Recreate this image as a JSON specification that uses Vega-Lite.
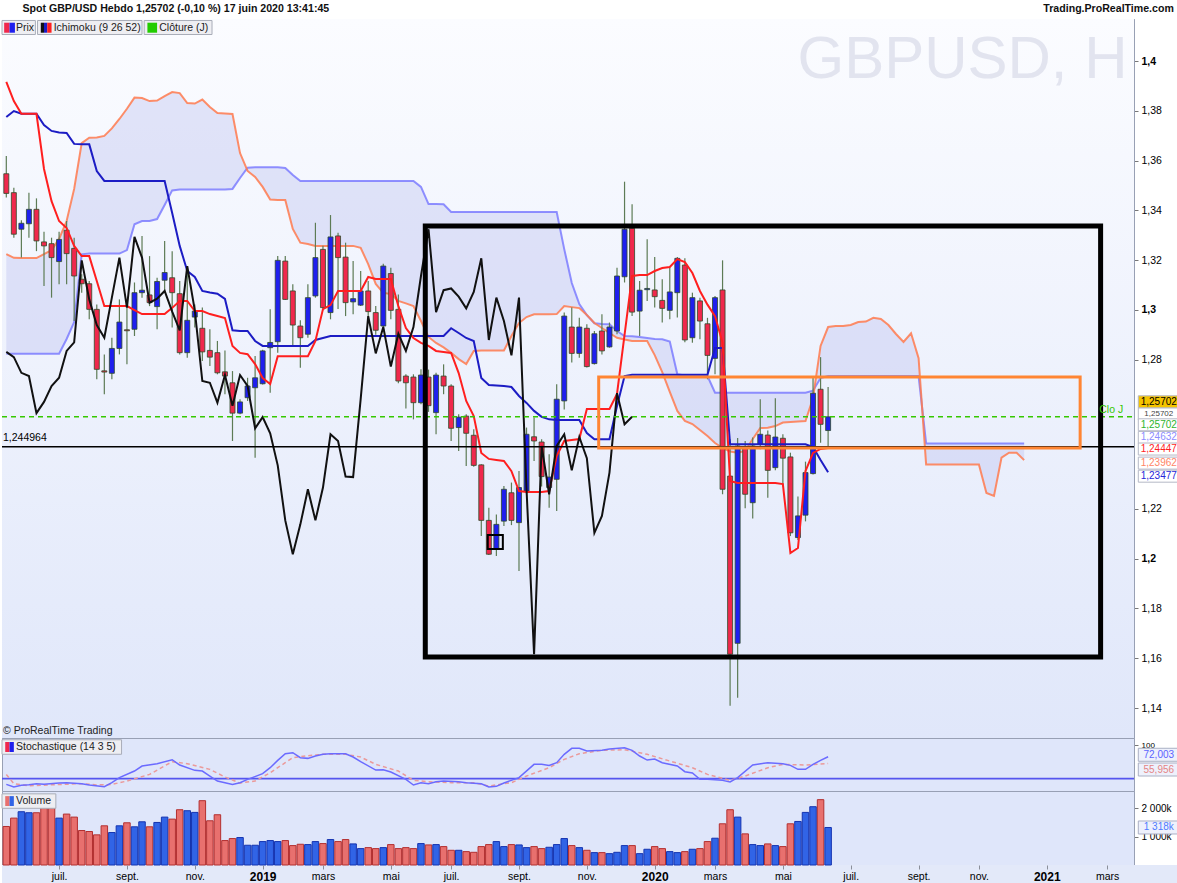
{
  "$schema": "https://vega.github.io/schema/vega-lite/v6.json",
  "padding": 0,
  "background": "white",
  "spacing": 0,
  "bounds": "flush",
  "config": {
    "font": "Liberation Sans",
    "view": {"stroke": "#98a0b4", "fill": "#dfe6fa"},
    "axis": {"labelFont": "Liberation Sans"}
  },
  "datasets": {
    "candles": [
      {"d":"2018-05-14","o":1.3547,"h":1.3618,"l":1.3451,"c":1.3468,"v":1353},
      {"d":"2018-05-21","o":1.3471,"h":1.3491,"l":1.3290,"c":1.3304,"v":1648},
      {"d":"2018-05-28","o":1.3324,"h":1.3360,"l":1.3210,"c":1.3348,"v":1872},
      {"d":"2018-06-04","o":1.3346,"h":1.3471,"l":1.3290,"c":1.3404,"v":1836},
      {"d":"2018-06-11","o":1.3404,"h":1.3448,"l":1.3236,"c":1.3277,"v":1836},
      {"d":"2018-06-18","o":1.3273,"h":1.3314,"l":1.3096,"c":1.3257,"v":2025},
      {"d":"2018-06-25","o":1.3266,"h":1.3290,"l":1.3049,"c":1.3210,"v":2025},
      {"d":"2018-07-02","o":1.3194,"h":1.3314,"l":1.3103,"c":1.3283,"v":1648},
      {"d":"2018-07-09","o":1.3320,"h":1.3357,"l":1.3103,"c":1.3226,"v":1789},
      {"d":"2018-07-16","o":1.3247,"h":1.3290,"l":1.2955,"c":1.3136,"v":1683},
      {"d":"2018-07-23","o":1.3123,"h":1.3143,"l":1.3069,"c":1.3105,"v":1212},
      {"d":"2018-07-30","o":1.3105,"h":1.3116,"l":1.2962,"c":1.3002,"v":1177},
      {"d":"2018-08-06","o":1.3002,"h":1.3022,"l":1.2721,"c":1.2761,"v":1059},
      {"d":"2018-08-13","o":1.2755,"h":1.2821,"l":1.2661,"c":1.2750,"v":1377},
      {"d":"2018-08-20","o":1.2745,"h":1.2888,"l":1.2721,"c":1.2845,"v":1141},
      {"d":"2018-08-27","o":1.2845,"h":1.3042,"l":1.2821,"c":1.2951,"v":1377},
      {"d":"2018-09-03","o":1.2920,"h":1.3009,"l":1.2781,"c":1.2916,"v":1483},
      {"d":"2018-09-10","o":1.2922,"h":1.3110,"l":1.2895,"c":1.3069,"v":1342},
      {"d":"2018-09-17","o":1.3069,"h":1.3297,"l":1.3049,"c":1.3079,"v":1518},
      {"d":"2018-09-24","o":1.3060,"h":1.3216,"l":1.3015,"c":1.3029,"v":1342},
      {"d":"2018-10-01","o":1.3013,"h":1.3129,"l":1.2922,"c":1.3114,"v":1495},
      {"d":"2018-10-08","o":1.3119,"h":1.3277,"l":1.3069,"c":1.3150,"v":1683},
      {"d":"2018-10-15","o":1.3129,"h":1.3236,"l":1.2929,"c":1.3069,"v":1612},
      {"d":"2018-10-22","o":1.3065,"h":1.3116,"l":1.2821,"c":1.2828,"v":1942},
      {"d":"2018-10-29","o":1.2828,"h":1.3176,"l":1.2808,"c":1.2958,"v":1907},
      {"d":"2018-11-05","o":1.2971,"h":1.3022,"l":1.2929,"c":1.2995,"v":1848},
      {"d":"2018-11-12","o":1.2926,"h":1.3009,"l":1.2794,"c":1.2831,"v":2260},
      {"d":"2018-11-19","o":1.2837,"h":1.2922,"l":1.2774,"c":1.2810,"v":1554},
      {"d":"2018-11-26","o":1.2828,"h":1.2875,"l":1.2741,"c":1.2747,"v":1766},
      {"d":"2018-12-03","o":1.2751,"h":1.2837,"l":1.2661,"c":1.2734,"v":859},
      {"d":"2018-12-10","o":1.2707,"h":1.2754,"l":1.2473,"c":1.2585,"v":929},
      {"d":"2018-12-17","o":1.2585,"h":1.2641,"l":1.2580,"c":1.2630,"v":965},
      {"d":"2018-12-24","o":1.2647,"h":1.2727,"l":1.2634,"c":1.2694,"v":694},
      {"d":"2018-12-31","o":1.2687,"h":1.2815,"l":1.2406,"c":1.2727,"v":694},
      {"d":"2019-01-07","o":1.2703,"h":1.2840,"l":1.2700,"c":1.2835,"v":823},
      {"d":"2019-01-14","o":1.2848,"h":1.3002,"l":1.2667,"c":1.2869,"v":859},
      {"d":"2019-01-21","o":1.2872,"h":1.3216,"l":1.2828,"c":1.3199,"v":823},
      {"d":"2019-01-28","o":1.3196,"h":1.3216,"l":1.3040,"c":1.3042,"v":859},
      {"d":"2019-02-04","o":1.3076,"h":1.3103,"l":1.2855,"c":1.2939,"v":682},
      {"d":"2019-02-11","o":1.2935,"h":1.2958,"l":1.2767,"c":1.2888,"v":729},
      {"d":"2019-02-18","o":1.2902,"h":1.3103,"l":1.2888,"c":1.3049,"v":717},
      {"d":"2019-02-25","o":1.3056,"h":1.3350,"l":1.3049,"c":1.3210,"v":823},
      {"d":"2019-03-04","o":1.3243,"h":1.3258,"l":1.2998,"c":1.3009,"v":753},
      {"d":"2019-03-11","o":1.2989,"h":1.3381,"l":1.2962,"c":1.3293,"v":894},
      {"d":"2019-03-18","o":1.3297,"h":1.3310,"l":1.3003,"c":1.3210,"v":823},
      {"d":"2019-03-25","o":1.3212,"h":1.3270,"l":1.2975,"c":1.3029,"v":894},
      {"d":"2019-04-01","o":1.3032,"h":1.3196,"l":1.2982,"c":1.3045,"v":741},
      {"d":"2019-04-08","o":1.3019,"h":1.3156,"l":1.3015,"c":1.3076,"v":576},
      {"d":"2019-04-15","o":1.3076,"h":1.3116,"l":1.2975,"c":1.2993,"v":611},
      {"d":"2019-04-22","o":1.2989,"h":1.3015,"l":1.2900,"c":1.2918,"v":576},
      {"d":"2019-04-29","o":1.2935,"h":1.3185,"l":1.2930,"c":1.3176,"v":611},
      {"d":"2019-05-06","o":1.3146,"h":1.3169,"l":1.2962,"c":1.2998,"v":717},
      {"d":"2019-05-13","o":1.3002,"h":1.3062,"l":1.2705,"c":1.2714,"v":576},
      {"d":"2019-05-20","o":1.2734,"h":1.2741,"l":1.2604,"c":1.2707,"v":611},
      {"d":"2019-05-27","o":1.2730,"h":1.2741,"l":1.2560,"c":1.2627,"v":576},
      {"d":"2019-06-03","o":1.2627,"h":1.2761,"l":1.2621,"c":1.2738,"v":753},
      {"d":"2019-06-10","o":1.2730,"h":1.2760,"l":1.2590,"c":1.2615,"v":705},
      {"d":"2019-06-17","o":1.2587,"h":1.2747,"l":1.2500,"c":1.2738,"v":717},
      {"d":"2019-06-24","o":1.2734,"h":1.2781,"l":1.2661,"c":1.2694,"v":647},
      {"d":"2019-07-01","o":1.2694,"h":1.2701,"l":1.2473,"c":1.2524,"v":517},
      {"d":"2019-07-08","o":1.2527,"h":1.2580,"l":1.2433,"c":1.2569,"v":517},
      {"d":"2019-07-15","o":1.2573,"h":1.2580,"l":1.2373,"c":1.2504,"v":470},
      {"d":"2019-07-22","o":1.2496,"h":1.2520,"l":1.2370,"c":1.2375,"v":446},
      {"d":"2019-07-29","o":1.2377,"h":1.2380,"l":1.2091,"c":1.2154,"v":647},
      {"d":"2019-08-05","o":1.2154,"h":1.2205,"l":1.2015,"c":1.2018,"v":717},
      {"d":"2019-08-12","o":1.2041,"h":1.2178,"l":1.2011,"c":1.2138,"v":823},
      {"d":"2019-08-19","o":1.2151,"h":1.2292,"l":1.2131,"c":1.2279,"v":647},
      {"d":"2019-08-26","o":1.2265,"h":1.2306,"l":1.2135,"c":1.2154,"v":717},
      {"d":"2019-09-02","o":1.2145,"h":1.2352,"l":1.1951,"c":1.2286,"v":705},
      {"d":"2019-09-09","o":1.2272,"h":1.2527,"l":1.2259,"c":1.2500,"v":611},
      {"d":"2019-09-16","o":1.2490,"h":1.2567,"l":1.2393,"c":1.2473,"v":647},
      {"d":"2019-09-23","o":1.2469,"h":1.2480,"l":1.2290,"c":1.2330,"v":576},
      {"d":"2019-09-30","o":1.2286,"h":1.2420,"l":1.2205,"c":1.2328,"v":623},
      {"d":"2019-10-07","o":1.2319,"h":1.2701,"l":1.2192,"c":1.2641,"v":717},
      {"d":"2019-10-14","o":1.2634,"h":1.2989,"l":1.2600,"c":1.2975,"v":929},
      {"d":"2019-10-21","o":1.2931,"h":1.3009,"l":1.2788,"c":1.2825,"v":682},
      {"d":"2019-10-28","o":1.2825,"h":1.2968,"l":1.2808,"c":1.2931,"v":611},
      {"d":"2019-11-04","o":1.2926,"h":1.2942,"l":1.2768,"c":1.2772,"v":517},
      {"d":"2019-11-11","o":1.2784,"h":1.2915,"l":1.2780,"c":1.2904,"v":435},
      {"d":"2019-11-18","o":1.2915,"h":1.2982,"l":1.2821,"c":1.2835,"v":435},
      {"d":"2019-11-25","o":1.2851,"h":1.2949,"l":1.2848,"c":1.2931,"v":399},
      {"d":"2019-12-02","o":1.2915,"h":1.3169,"l":1.2902,"c":1.3136,"v":446},
      {"d":"2019-12-09","o":1.3133,"h":1.3515,"l":1.3110,"c":1.3324,"v":682},
      {"d":"2019-12-16","o":1.3328,"h":1.3424,"l":1.2975,"c":1.2991,"v":682},
      {"d":"2019-12-23","o":1.2995,"h":1.3116,"l":1.2895,"c":1.3079,"v":399},
      {"d":"2019-12-30","o":1.3081,"h":1.3284,"l":1.3036,"c":1.3086,"v":553},
      {"d":"2020-01-06","o":1.3080,"h":1.3212,"l":1.3009,"c":1.3053,"v":647},
      {"d":"2020-01-13","o":1.3038,"h":1.3123,"l":1.2949,"c":1.3006,"v":576},
      {"d":"2020-01-20","o":1.2998,"h":1.3169,"l":1.2962,"c":1.3072,"v":470},
      {"d":"2020-01-27","o":1.3069,"h":1.3212,"l":1.2969,"c":1.3207,"v":435},
      {"d":"2020-02-03","o":1.3180,"h":1.3207,"l":1.2870,"c":1.2879,"v":470},
      {"d":"2020-02-10","o":1.2888,"h":1.3069,"l":1.2868,"c":1.3049,"v":553},
      {"d":"2020-02-17","o":1.3036,"h":1.3049,"l":1.2882,"c":1.2955,"v":576},
      {"d":"2020-02-24","o":1.2944,"h":1.2968,"l":1.2721,"c":1.2817,"v":823},
      {"d":"2020-03-02","o":1.2805,"h":1.3056,"l":1.2741,"c":1.3049,"v":941},
      {"d":"2020-03-09","o":1.3080,"h":1.3199,"l":1.2259,"c":1.2279,"v":1448},
      {"d":"2020-03-16","o":1.2332,"h":1.2480,"l":1.1409,"c":1.1616,"v":1942},
      {"d":"2020-03-23","o":1.1660,"h":1.2485,"l":1.1441,"c":1.2453,"v":1683},
      {"d":"2020-03-30","o":1.2446,"h":1.2473,"l":1.2203,"c":1.2259,"v":1094},
      {"d":"2020-04-06","o":1.2225,"h":1.2487,"l":1.2162,"c":1.2453,"v":717},
      {"d":"2020-04-13","o":1.2460,"h":1.2641,"l":1.2440,"c":1.2500,"v":682},
      {"d":"2020-04-20","o":1.2497,"h":1.2515,"l":1.2245,"c":1.2355,"v":741},
      {"d":"2020-04-27","o":1.2366,"h":1.2645,"l":1.2355,"c":1.2489,"v":682},
      {"d":"2020-05-04","o":1.2484,"h":1.2500,"l":1.2290,"c":1.2404,"v":647},
      {"d":"2020-05-11","o":1.2409,"h":1.2426,"l":1.2091,"c":1.2104,"v":1448},
      {"d":"2020-05-18","o":1.2085,"h":1.2250,"l":1.2075,"c":1.2172,"v":1530},
      {"d":"2020-05-25","o":1.2175,"h":1.2390,"l":1.2150,"c":1.2346,"v":1848},
      {"d":"2020-06-01","o":1.2342,"h":1.2730,"l":1.2338,"c":1.2665,"v":2048},
      {"d":"2020-06-08","o":1.2681,"h":1.2810,"l":1.2466,"c":1.2540,"v":2296},
      {"d":"2020-06-15","o":1.2515,"h":1.2690,"l":1.2450,"c":1.25702,"v":1318}
    ],
    "tk": [
      {"d":"2018-05-14","t":1.3916,"k":1.3775},{"d":"2018-05-21","t":1.3839,"k":1.3799},
      {"d":"2018-05-28","t":1.3788,"k":1.3788},{"d":"2018-06-04","t":1.3788,"k":1.3788},
      {"d":"2018-06-11","t":1.3788,"k":1.3788},{"d":"2018-06-18","t":1.3566,"k":1.3743},
      {"d":"2018-06-25","t":1.3437,"k":1.3719},{"d":"2018-07-02","t":1.3357,"k":1.3713},
      {"d":"2018-07-09","t":1.3329,"k":1.3711},{"d":"2018-07-16","t":1.3257,"k":1.3667},
      {"d":"2018-07-23","t":1.3216,"k":1.3665},{"d":"2018-07-30","t":1.3216,"k":1.3665},
      {"d":"2018-08-06","t":1.3116,"k":1.3558},{"d":"2018-08-13","t":1.3015,"k":1.3518},
      {"d":"2018-08-20","t":1.3015,"k":1.3518},{"d":"2018-08-27","t":1.3015,"k":1.3518},
      {"d":"2018-09-03","t":1.3015,"k":1.3518},{"d":"2018-09-10","t":1.2999,"k":1.3518},
      {"d":"2018-09-17","t":1.2983,"k":1.3518},{"d":"2018-09-24","t":1.2983,"k":1.3518},
      {"d":"2018-10-01","t":1.2983,"k":1.3518},{"d":"2018-10-08","t":1.2983,"k":1.3518},
      {"d":"2018-10-15","t":1.3008,"k":1.3389},{"d":"2018-10-22","t":1.3036,"k":1.3257},
      {"d":"2018-10-29","t":1.3036,"k":1.3156},{"d":"2018-11-05","t":1.2995,"k":1.3132},
      {"d":"2018-11-12","t":1.2995,"k":1.3076},{"d":"2018-11-19","t":1.2983,"k":1.3070},
      {"d":"2018-11-26","t":1.2975,"k":1.3065},{"d":"2018-12-03","t":1.2967,"k":1.3044},
      {"d":"2018-12-10","t":1.2855,"k":1.2918},{"d":"2018-12-17","t":1.2827,"k":1.2915},
      {"d":"2018-12-24","t":1.2822,"k":1.2915},{"d":"2018-12-31","t":1.2782,"k":1.2875},
      {"d":"2019-01-07","t":1.2726,"k":1.2855},{"d":"2019-01-14","t":1.2702,"k":1.2855},
      {"d":"2019-01-21","t":1.2814,"k":1.2855},{"d":"2019-01-28","t":1.2814,"k":1.2855},
      {"d":"2019-02-04","t":1.2814,"k":1.2855},{"d":"2019-02-11","t":1.2814,"k":1.2855},
      {"d":"2019-02-18","t":1.2814,"k":1.2855},{"d":"2019-02-25","t":1.2875,"k":1.2879},
      {"d":"2019-03-04","t":1.3003,"k":1.2887},{"d":"2019-03-11","t":1.3019,"k":1.2895},
      {"d":"2019-03-18","t":1.3076,"k":1.2895},{"d":"2019-03-25","t":1.3076,"k":1.2895},
      {"d":"2019-04-01","t":1.3076,"k":1.2895},{"d":"2019-04-08","t":1.3076,"k":1.2895},
      {"d":"2019-04-15","t":1.3132,"k":1.2895},{"d":"2019-04-22","t":1.3124,"k":1.2895},
      {"d":"2019-04-29","t":1.3124,"k":1.2895},{"d":"2019-05-06","t":1.3124,"k":1.2895},
      {"d":"2019-05-13","t":1.3015,"k":1.2895},{"d":"2019-05-20","t":1.2927,"k":1.2895},
      {"d":"2019-05-27","t":1.2887,"k":1.2895},{"d":"2019-06-03","t":1.2867,"k":1.2895},
      {"d":"2019-06-10","t":1.2855,"k":1.2895},{"d":"2019-06-17","t":1.2835,"k":1.2895},
      {"d":"2019-06-24","t":1.2831,"k":1.2895},{"d":"2019-07-01","t":1.2827,"k":1.2926},
      {"d":"2019-07-08","t":1.2746,"k":1.2907},{"d":"2019-07-15","t":1.2634,"k":1.2887},
      {"d":"2019-07-22","t":1.2573,"k":1.2875},{"d":"2019-07-29","t":1.2425,"k":1.2726},
      {"d":"2019-08-05","t":1.2401,"k":1.2698},{"d":"2019-08-12","t":1.2397,"k":1.2696},
      {"d":"2019-08-19","t":1.2393,"k":1.2694},{"d":"2019-08-26","t":1.2352,"k":1.2690},
      {"d":"2019-09-02","t":1.2272,"k":1.2654},{"d":"2019-09-09","t":1.2268,"k":1.2626},
      {"d":"2019-09-16","t":1.2268,"k":1.2594},{"d":"2019-09-23","t":1.2268,"k":1.2570},
      {"d":"2019-09-30","t":1.2272,"k":1.2560},{"d":"2019-10-07","t":1.2413,"k":1.2557},
      {"d":"2019-10-14","t":1.2473,"k":1.2557},{"d":"2019-10-21","t":1.2477,"k":1.2557},
      {"d":"2019-10-28","t":1.2481,"k":1.2557},{"d":"2019-11-04","t":1.2602,"k":1.2505},
      {"d":"2019-11-11","t":1.2602,"k":1.2480},{"d":"2019-11-18","t":1.2602,"k":1.2480},
      {"d":"2019-11-25","t":1.2602,"k":1.2480},{"d":"2019-12-02","t":1.2662,"k":1.2614},
      {"d":"2019-12-09","t":1.2899,"k":1.2734},{"d":"2019-12-16","t":1.3136,"k":1.2739},
      {"d":"2019-12-23","t":1.3140,"k":1.2739},{"d":"2019-12-30","t":1.3140,"k":1.2739},
      {"d":"2020-01-06","t":1.3156,"k":1.2739},{"d":"2020-01-13","t":1.3168,"k":1.2739},
      {"d":"2020-01-20","t":1.3172,"k":1.2739},{"d":"2020-01-27","t":1.3204,"k":1.2739},
      {"d":"2020-02-03","t":1.3192,"k":1.2739},{"d":"2020-02-10","t":1.3148,"k":1.2739},
      {"d":"2020-02-17","t":1.3076,"k":1.2739},{"d":"2020-02-24","t":1.3021,"k":1.2739},
      {"d":"2020-03-02","t":1.2975,"k":1.2847},{"d":"2020-03-09","t":1.2868,"k":1.2847},
      {"d":"2020-03-16","t":1.2312,"k":1.2460},{"d":"2020-03-23","t":1.2304,"k":1.2460},
      {"d":"2020-03-30","t":1.2304,"k":1.2460},{"d":"2020-04-06","t":1.2304,"k":1.2460},
      {"d":"2020-04-13","t":1.2304,"k":1.2460},{"d":"2020-04-20","t":1.2304,"k":1.2460},
      {"d":"2020-04-27","t":1.2304,"k":1.2460},{"d":"2020-05-04","t":1.2300,"k":1.2460},
      {"d":"2020-05-11","t":1.2023,"k":1.2460},{"d":"2020-05-18","t":1.2043,"k":1.2460},
      {"d":"2020-05-25","t":1.2352,"k":1.2460},{"d":"2020-06-01","t":1.2425,"k":1.2449},
      {"d":"2020-06-08","t":1.2441,"k":1.2397},{"d":"2020-06-15","t":1.24447,"k":1.23477}
    ],
    "ck": [
      {"d":"2018-05-14","v":1.2831},{"d":"2018-05-21","v":1.2810},{"d":"2018-05-28","v":1.2747},
      {"d":"2018-06-04","v":1.2734},{"d":"2018-06-11","v":1.2585},{"d":"2018-06-18","v":1.2630},
      {"d":"2018-06-25","v":1.2694},{"d":"2018-07-02","v":1.2727},{"d":"2018-07-09","v":1.2835},
      {"d":"2018-07-16","v":1.2869},{"d":"2018-07-23","v":1.3199},{"d":"2018-07-30","v":1.3042},
      {"d":"2018-08-06","v":1.2939},{"d":"2018-08-13","v":1.2888},{"d":"2018-08-20","v":1.3049},
      {"d":"2018-08-27","v":1.3210},{"d":"2018-09-03","v":1.3009},{"d":"2018-09-10","v":1.3293},
      {"d":"2018-09-17","v":1.3210},{"d":"2018-09-24","v":1.3029},{"d":"2018-10-01","v":1.3045},
      {"d":"2018-10-08","v":1.3076},{"d":"2018-10-15","v":1.2993},{"d":"2018-10-22","v":1.2918},
      {"d":"2018-10-29","v":1.3176},{"d":"2018-11-05","v":1.2998},{"d":"2018-11-12","v":1.2714},
      {"d":"2018-11-19","v":1.2707},{"d":"2018-11-26","v":1.2627},{"d":"2018-12-03","v":1.2738},
      {"d":"2018-12-10","v":1.2615},{"d":"2018-12-17","v":1.2738},{"d":"2018-12-24","v":1.2694},
      {"d":"2018-12-31","v":1.2524},{"d":"2019-01-07","v":1.2569},{"d":"2019-01-14","v":1.2504},
      {"d":"2019-01-21","v":1.2375},{"d":"2019-01-28","v":1.2154},{"d":"2019-02-04","v":1.2018},
      {"d":"2019-02-11","v":1.2138},{"d":"2019-02-18","v":1.2279},{"d":"2019-02-25","v":1.2154},
      {"d":"2019-03-04","v":1.2286},{"d":"2019-03-11","v":1.2500},{"d":"2019-03-18","v":1.2473},
      {"d":"2019-03-25","v":1.2330},{"d":"2019-04-01","v":1.2328},{"d":"2019-04-08","v":1.2641},
      {"d":"2019-04-15","v":1.2975},{"d":"2019-04-22","v":1.2825},{"d":"2019-04-29","v":1.2931},
      {"d":"2019-05-06","v":1.2772},{"d":"2019-05-13","v":1.2904},{"d":"2019-05-20","v":1.2835},
      {"d":"2019-05-27","v":1.2931},{"d":"2019-06-03","v":1.3136},{"d":"2019-06-10","v":1.3324},
      {"d":"2019-06-17","v":1.2991},{"d":"2019-06-24","v":1.3079},{"d":"2019-07-01","v":1.3086},
      {"d":"2019-07-08","v":1.3053},{"d":"2019-07-15","v":1.3006},{"d":"2019-07-22","v":1.3072},
      {"d":"2019-07-29","v":1.3207},{"d":"2019-08-05","v":1.2879},{"d":"2019-08-12","v":1.3049},
      {"d":"2019-08-19","v":1.2955},{"d":"2019-08-26","v":1.2817},{"d":"2019-09-02","v":1.3049},
      {"d":"2019-09-09","v":1.2279},{"d":"2019-09-16","v":1.1616},{"d":"2019-09-23","v":1.2453},
      {"d":"2019-09-30","v":1.2259},{"d":"2019-10-07","v":1.2453},{"d":"2019-10-14","v":1.2500},
      {"d":"2019-10-21","v":1.2355},{"d":"2019-10-28","v":1.2489},{"d":"2019-11-04","v":1.2404},
      {"d":"2019-11-11","v":1.2104},{"d":"2019-11-18","v":1.2172},{"d":"2019-11-25","v":1.2346},
      {"d":"2019-12-02","v":1.2665},{"d":"2019-12-09","v":1.2540},{"d":"2019-12-16","v":1.25702}
    ],
    "cl": [
      {"d":"2018-05-14","a":1.2824,"b":1.3224},{"d":"2018-05-21","a":1.2824,"b":1.3209},
      {"d":"2018-05-28","a":1.2824,"b":1.3208},{"d":"2018-06-04","a":1.2824,"b":1.3208},
      {"d":"2018-06-11","a":1.2824,"b":1.3208},{"d":"2018-06-18","a":1.2824,"b":1.3224},
      {"d":"2018-06-25","a":1.2824,"b":1.3240},{"d":"2018-07-02","a":1.2824,"b":1.3285},
      {"d":"2018-07-09","a":1.2883,"b":1.3357},{"d":"2018-07-16","a":1.2951,"b":1.3486},
      {"d":"2018-07-23","a":1.3223,"b":1.3670},{"d":"2018-07-30","a":1.3226,"b":1.3692},
      {"d":"2018-08-06","a":1.3226,"b":1.3693},{"d":"2018-08-13","a":1.3226,"b":1.3699},
      {"d":"2018-08-20","a":1.3226,"b":1.3729},{"d":"2018-08-27","a":1.3226,"b":1.3767},
      {"d":"2018-09-03","a":1.3240,"b":1.3808},{"d":"2018-09-10","a":1.3344,"b":1.3853},
      {"d":"2018-09-17","a":1.3357,"b":1.3851},{"d":"2018-09-24","a":1.3357,"b":1.3839},
      {"d":"2018-10-01","a":1.3365,"b":1.3841},{"d":"2018-10-08","a":1.3421,"b":1.3859},
      {"d":"2018-10-15","a":1.3480,"b":1.3875},{"d":"2018-10-22","a":1.3484,"b":1.3871},
      {"d":"2018-10-29","a":1.3484,"b":1.3831},{"d":"2018-11-05","a":1.3484,"b":1.3829},
      {"d":"2018-11-12","a":1.3484,"b":1.3845},{"d":"2018-11-19","a":1.3484,"b":1.3815},
      {"d":"2018-11-26","a":1.3484,"b":1.3791},{"d":"2018-12-03","a":1.3484,"b":1.3789},
      {"d":"2018-12-10","a":1.3486,"b":1.3787},{"d":"2018-12-17","a":1.3530,"b":1.3630},
      {"d":"2018-12-24","a":1.3571,"b":1.3558},{"d":"2018-12-31","a":1.3573,"b":1.3534},
      {"d":"2019-01-07","a":1.3573,"b":1.3494},{"d":"2019-01-14","a":1.3573,"b":1.3443},
      {"d":"2019-01-21","a":1.3573,"b":1.3441},{"d":"2019-01-28","a":1.3570,"b":1.3441},
      {"d":"2019-02-04","a":1.3542,"b":1.3325},{"d":"2019-02-11","a":1.3518,"b":1.3270},
      {"d":"2019-02-18","a":1.3518,"b":1.3265},{"d":"2019-02-25","a":1.3518,"b":1.3257},
      {"d":"2019-03-04","a":1.3518,"b":1.3257},{"d":"2019-03-11","a":1.3518,"b":1.3257},
      {"d":"2019-03-18","a":1.3518,"b":1.3257},{"d":"2019-03-25","a":1.3518,"b":1.3257},
      {"d":"2019-04-01","a":1.3518,"b":1.3257},{"d":"2019-04-08","a":1.3518,"b":1.3249},
      {"d":"2019-04-15","a":1.3518,"b":1.3184},{"d":"2019-04-22","a":1.3518,"b":1.3104},
      {"d":"2019-04-29","a":1.3518,"b":1.3068},{"d":"2019-05-06","a":1.3518,"b":1.3064},
      {"d":"2019-05-13","a":1.3518,"b":1.3036},{"d":"2019-05-20","a":1.3518,"b":1.3026},
      {"d":"2019-05-27","a":1.3518,"b":1.3015},{"d":"2019-06-03","a":1.3494,"b":1.2955},
      {"d":"2019-06-10","a":1.3425,"b":1.2891},{"d":"2019-06-17","a":1.3425,"b":1.2867},
      {"d":"2019-06-24","a":1.3424,"b":1.2849},{"d":"2019-07-01","a":1.3393,"b":1.2827},
      {"d":"2019-07-08","a":1.3393,"b":1.2802},{"d":"2019-07-15","a":1.3393,"b":1.2782},
      {"d":"2019-07-22","a":1.3393,"b":1.2835},{"d":"2019-07-29","a":1.3393,"b":1.2837},
      {"d":"2019-08-05","a":1.3393,"b":1.2837},{"d":"2019-08-12","a":1.3393,"b":1.2837},
      {"d":"2019-08-19","a":1.3393,"b":1.2837},{"d":"2019-08-26","a":1.3393,"b":1.2895},
      {"d":"2019-09-02","a":1.3393,"b":1.2947},{"d":"2019-09-09","a":1.3393,"b":1.2971},
      {"d":"2019-09-16","a":1.3393,"b":1.2982},{"d":"2019-09-23","a":1.3393,"b":1.2982},
      {"d":"2019-09-30","a":1.3393,"b":1.2982},{"d":"2019-10-07","a":1.3393,"b":1.2983},
      {"d":"2019-10-14","a":1.3244,"b":1.3015},{"d":"2019-10-21","a":1.3108,"b":1.3011},
      {"d":"2019-10-28","a":1.3023,"b":1.3007},{"d":"2019-11-04","a":1.2979,"b":1.2979},
      {"d":"2019-11-11","a":1.2946,"b":1.2947},{"d":"2019-11-18","a":1.2943,"b":1.2927},
      {"d":"2019-11-25","a":1.2942,"b":1.2907},{"d":"2019-12-02","a":1.2915,"b":1.2888},
      {"d":"2019-12-09","a":1.2895,"b":1.2881},{"d":"2019-12-16","a":1.2894,"b":1.2875},
      {"d":"2019-12-23","a":1.2891,"b":1.2875},{"d":"2019-12-30","a":1.2887,"b":1.2875},
      {"d":"2020-01-06","a":1.2883,"b":1.2818},{"d":"2020-01-13","a":1.2882,"b":1.2750},
      {"d":"2020-01-20","a":1.2873,"b":1.2670},{"d":"2020-01-27","a":1.2741,"b":1.2594},
      {"d":"2020-02-03","a":1.2736,"b":1.2554},{"d":"2020-02-10","a":1.2734,"b":1.2541},
      {"d":"2020-02-17","a":1.2734,"b":1.2517},{"d":"2020-02-24","a":1.2734,"b":1.2493},
      {"d":"2020-03-02","a":1.2667,"b":1.2465},{"d":"2020-03-09","a":1.2667,"b":1.2445},
      {"d":"2020-03-16","a":1.2667,"b":1.2431},{"d":"2020-03-23","a":1.2667,"b":1.2426},
      {"d":"2020-03-30","a":1.2667,"b":1.2433},{"d":"2020-04-06","a":1.2667,"b":1.2481},
      {"d":"2020-04-13","a":1.2667,"b":1.2525},{"d":"2020-04-20","a":1.2667,"b":1.2526},
      {"d":"2020-04-27","a":1.2667,"b":1.2533},{"d":"2020-05-04","a":1.2667,"b":1.2547},
      {"d":"2020-05-11","a":1.2667,"b":1.2549},{"d":"2020-05-18","a":1.2667,"b":1.2551},
      {"d":"2020-05-25","a":1.2667,"b":1.2553},{"d":"2020-06-01","a":1.2675,"b":1.2646},
      {"d":"2020-06-08","a":1.2726,"b":1.2855},{"d":"2020-06-15","a":1.2734,"b":1.2931},
      {"d":"2020-06-22","a":1.2734,"b":1.2935},{"d":"2020-06-29","a":1.2734,"b":1.2935},
      {"d":"2020-07-06","a":1.2734,"b":1.2939},{"d":"2020-07-13","a":1.2734,"b":1.2951},
      {"d":"2020-07-20","a":1.2734,"b":1.2953},{"d":"2020-07-27","a":1.2734,"b":1.2968},
      {"d":"2020-08-03","a":1.2734,"b":1.2963},{"d":"2020-08-10","a":1.2734,"b":1.2939},
      {"d":"2020-08-17","a":1.2734,"b":1.2903},{"d":"2020-08-24","a":1.2734,"b":1.2871},
      {"d":"2020-08-31","a":1.2734,"b":1.2906},{"d":"2020-09-07","a":1.2734,"b":1.2806},
      {"d":"2020-09-14","a":1.24632,"b":1.2379},{"d":"2020-09-21","a":1.24632,"b":1.2379},
      {"d":"2020-09-28","a":1.24632,"b":1.2379},{"d":"2020-10-05","a":1.24632,"b":1.2379},
      {"d":"2020-10-12","a":1.24632,"b":1.2379},{"d":"2020-10-19","a":1.24632,"b":1.2379},
      {"d":"2020-10-26","a":1.24632,"b":1.2379},{"d":"2020-11-02","a":1.24632,"b":1.2379},
      {"d":"2020-11-09","a":1.24632,"b":1.2264},{"d":"2020-11-16","a":1.24632,"b":1.2252},
      {"d":"2020-11-23","a":1.24632,"b":1.2406},{"d":"2020-11-30","a":1.24632,"b":1.2426},
      {"d":"2020-12-07","a":1.24632,"b":1.2426},{"d":"2020-12-14","a":1.24632,"b":1.23962}
    ],
    "stk": [
      {"d":"2018-05-14","v":6.3},{"d":"2018-05-21","v":0},{"d":"2018-05-28","v":4},{"d":"2018-06-04","v":5.5},
      {"d":"2018-06-11","v":7.9},{"d":"2018-06-18","v":6.3},{"d":"2018-07-02","v":9.5},{"d":"2018-07-09","v":10.3},
      {"d":"2018-07-23","v":7.9},{"d":"2018-07-30","v":4.7},{"d":"2018-08-13","v":0.8},{"d":"2018-08-20","v":10.3},
      {"d":"2018-08-27","v":22.2},{"d":"2018-09-10","v":38},{"d":"2018-09-17","v":50},{"d":"2018-10-01","v":55.5},
      {"d":"2018-10-15","v":65},{"d":"2018-10-22","v":52.3},{"d":"2018-11-05","v":39.7},{"d":"2018-11-12","v":38},
      {"d":"2018-11-19","v":26.1},{"d":"2018-11-26","v":14.2},{"d":"2018-12-10","v":6.3},{"d":"2018-12-17","v":10.3},
      {"d":"2018-12-24","v":18.2},{"d":"2019-01-07","v":31.7},{"d":"2019-01-14","v":46},{"d":"2019-01-21","v":63.4},
      {"d":"2019-01-28","v":79.3},{"d":"2019-02-04","v":81.7},{"d":"2019-02-11","v":69.8},{"d":"2019-02-18","v":68.2},
      {"d":"2019-02-25","v":73.8},{"d":"2019-03-04","v":77.8},{"d":"2019-03-11","v":79.3},{"d":"2019-03-25","v":79.3},
      {"d":"2019-04-01","v":71.4},{"d":"2019-04-08","v":60.3},{"d":"2019-04-22","v":40.4},{"d":"2019-04-29","v":41.2},
      {"d":"2019-05-06","v":35.7},{"d":"2019-05-20","v":18.2},{"d":"2019-05-27","v":4.7},{"d":"2019-06-03","v":10.3},
      {"d":"2019-06-10","v":7.9},{"d":"2019-06-17","v":12.6},{"d":"2019-06-24","v":14.2},{"d":"2019-07-08","v":12.6},
      {"d":"2019-07-15","v":10.3},{"d":"2019-07-29","v":7.9},{"d":"2019-08-05","v":0},{"d":"2019-08-12","v":1.6},
      {"d":"2019-08-19","v":9.5},{"d":"2019-09-02","v":22.2},{"d":"2019-09-16","v":53.9},{"d":"2019-09-23","v":53.9},
      {"d":"2019-09-30","v":51.5},{"d":"2019-10-07","v":57.9},{"d":"2019-10-14","v":77.8},{"d":"2019-10-21","v":92},
      {"d":"2019-10-28","v":92},{"d":"2019-11-04","v":85.7},{"d":"2019-11-18","v":87.3},{"d":"2019-11-25","v":90.4},
      {"d":"2019-12-09","v":93.6},{"d":"2019-12-16","v":87.3},{"d":"2019-12-23","v":73.8},{"d":"2019-12-30","v":64.2},
      {"d":"2020-01-06","v":66.6},{"d":"2020-01-13","v":57.9},{"d":"2020-01-27","v":50},{"d":"2020-02-03","v":36.5},
      {"d":"2020-02-10","v":33.3},{"d":"2020-02-17","v":18.2},{"d":"2020-02-24","v":18.2},{"d":"2020-03-02","v":17.4},
      {"d":"2020-03-09","v":15.8},{"d":"2020-03-16","v":11.9},{"d":"2020-03-23","v":22.2},{"d":"2020-04-06","v":52.3},
      {"d":"2020-04-20","v":57.9},{"d":"2020-05-04","v":55.5},{"d":"2020-05-11","v":51.5},{"d":"2020-05-18","v":42},
      {"d":"2020-05-25","v":42},{"d":"2020-06-01","v":53.9},{"d":"2020-06-08","v":63.4},{"d":"2020-06-15","v":72.003}
    ],
    "std": [
      {"d":"2018-05-14","v":30},{"d":"2018-05-21","v":8},{"d":"2018-06-04","v":3},{"d":"2018-07-02","v":6},
      {"d":"2018-07-23","v":8},{"d":"2018-08-06","v":5},{"d":"2018-08-20","v":6},{"d":"2018-08-27","v":10.3},
      {"d":"2018-09-03","v":14.2},{"d":"2018-09-24","v":30.1},{"d":"2018-10-15","v":60.3},{"d":"2018-10-29","v":55.5},
      {"d":"2018-11-19","v":42},{"d":"2018-12-03","v":23.8},{"d":"2018-12-17","v":9.5},{"d":"2018-12-31","v":14.2},
      {"d":"2019-01-14","v":34.1},{"d":"2019-01-28","v":57.9},{"d":"2019-02-04","v":69.8},{"d":"2019-02-18","v":74.6},
      {"d":"2019-03-04","v":77.8},{"d":"2019-03-25","v":77.8},{"d":"2019-04-08","v":71.4},{"d":"2019-04-22","v":53.9},
      {"d":"2019-05-13","v":38},{"d":"2019-05-27","v":15.8},{"d":"2019-06-10","v":12.6},{"d":"2019-07-01","v":10.3},
      {"d":"2019-07-22","v":10.3},{"d":"2019-08-05","v":2.4},{"d":"2019-08-26","v":10.3},{"d":"2019-09-09","v":26.1},
      {"d":"2019-09-30","v":46},{"d":"2019-10-14","v":65.8},{"d":"2019-10-28","v":79.3},{"d":"2019-11-18","v":87.3},
      {"d":"2019-12-09","v":88.9},{"d":"2019-12-30","v":77.8},{"d":"2020-01-20","v":61.9},{"d":"2020-02-10","v":46},
      {"d":"2020-02-24","v":30.1},{"d":"2020-03-16","v":15.8},{"d":"2020-03-30","v":26.1},{"d":"2020-04-20","v":46},
      {"d":"2020-05-04","v":53.9},{"d":"2020-05-25","v":52.3},{"d":"2020-06-15","v":55.956}
    ]
  },
  "vconcat": [
    {
      "width": 1132,
      "height": 719,
      "layer": [
        {
          "data": {"values": [{}]},
          "mark": {"type": "rect", "color": {"gradient": "linear", "x1": 0, "y1": 0, "x2": 0, "y2": 1,
            "stops": [{"offset": 0, "color": "#fbfcff"}, {"offset": 1, "color": "#e0e7fa"}]}},
          "encoding": {
            "x": {"datum": {"year": 2018, "month": 5, "date": 10}, "type": "temporal",
                  "scale": {"domain": [{"year": 2018, "month": 5, "date": 10}, {"year": 2021, "month": 3, "date": 26}], "padding": 0}, "axis": null},
            "x2": {"datum": {"year": 2021, "month": 3, "date": 26}},
            "y": {"datum": 1.12795, "type": "quantitative",
                  "scale": {"domain": [1.12795, 1.41688], "nice": false, "zero": false, "padding": 0},
                  "axis": {"orient": "right", "title": null, "grid": false,
                           "values": [1.14, 1.16, 1.18, 1.2, 1.22, 1.28, 1.3, 1.32, 1.34, 1.36, 1.38, 1.4],
                           "labelExpr": "replace(format(datum.value, '.2~f'), '.', ',')",
                           "labelFontWeight": {"condition": {"test": "abs(datum.value * 10 - round(datum.value * 10)) < 0.001", "value": "bold"}, "value": "normal"},
                           "labelFontSize": 10.5, "labelColor": "#000000", "labelPadding": 3,
                           "tickSize": 4, "tickColor": "#777777", "domainColor": "#98a0b4"}},
            "y2": {"datum": 1.41688}
          }
        },
        {
          "data": {"values": [{}]},
          "mark": {"type": "rect", "fill": "#ffffff"},
          "encoding": {
            "x": {"datum": {"year": 2018, "month": 5, "date": 10}, "type": "temporal", "axis": null},
            "x2": {"datum": {"year": 2021, "month": 3, "date": 26}},
            "y": {"datum": 1.41688, "type": "quantitative"},
            "y2": {"datum": 1.42411}
          }
        },
        {
          "data": {"values": [{}]},
          "mark": {"type": "text", "text": "GBPUSD, H", "fontSize": 60, "align": "right", "baseline": "middle", "color": "#e2e4ef"},
          "encoding": {
            "x": {"datum": {"year": 2021, "month": 3, "date": 20}, "type": "temporal", "axis": null},
            "y": {"datum": 1.4005, "type": "quantitative"}
          }
        },
        {
          "data": {"name": "cl"},
          "mark": {"type": "area", "color": "#c4c7f2", "opacity": 0.45},
          "encoding": {
            "x": {"field": "d", "type": "temporal", "axis": null},
            "y": {"field": "a", "type": "quantitative"},
            "y2": {"field": "b"}
          }
        },
        {
          "data": {"name": "cl"},
          "mark": {"type": "line", "color": "#7575ff", "strokeWidth": 2, "opacity": 0.8},
          "encoding": {
            "x": {"field": "d", "type": "temporal", "axis": null},
            "y": {"field": "a", "type": "quantitative"}
          }
        },
        {
          "data": {"name": "cl"},
          "mark": {"type": "line", "color": "#ff7a4e", "strokeWidth": 2, "opacity": 0.85},
          "encoding": {
            "x": {"field": "d", "type": "temporal", "axis": null},
            "y": {"field": "b", "type": "quantitative"}
          }
        },
        {
          "data": {"name": "candles"},
          "mark": {"type": "rule", "color": "#5d7b55", "strokeWidth": 1.2},
          "encoding": {
            "x": {"field": "d", "type": "temporal", "axis": null},
            "y": {"field": "l", "type": "quantitative"},
            "y2": {"field": "h"}
          }
        },
        {
          "data": {"name": "candles"},
          "mark": {"type": "bar", "size": 5, "strokeWidth": 0.8, "stroke": "#2f4a2a"},
          "encoding": {
            "x": {"field": "d", "type": "temporal", "axis": null},
            "y": {"field": "o", "type": "quantitative"},
            "y2": {"field": "c"},
            "color": {"condition": {"test": "datum.c >= datum.o", "value": "#1f1fee"}, "value": "#f0284c"}
          }
        },
        {
          "data": {"name": "tk"},
          "mark": {"type": "line", "color": "#1c1cc4", "strokeWidth": 2},
          "encoding": {
            "x": {"field": "d", "type": "temporal", "axis": null},
            "y": {"field": "k", "type": "quantitative"}
          }
        },
        {
          "data": {"name": "tk"},
          "mark": {"type": "line", "color": "#ff1f1f", "strokeWidth": 2},
          "encoding": {
            "x": {"field": "d", "type": "temporal", "axis": null},
            "y": {"field": "t", "type": "quantitative"}
          }
        },
        {
          "data": {"name": "ck"},
          "mark": {"type": "line", "color": "#111111", "strokeWidth": 2},
          "encoding": {
            "x": {"field": "d", "type": "temporal", "axis": null},
            "y": {"field": "v", "type": "quantitative"}
          }
        },
        {
          "data": {"values": [{}]},
          "mark": {"type": "rule", "color": "#36c800", "strokeWidth": 1.6, "strokeDash": [5, 4]},
          "encoding": {
            "x": {"datum": {"year": 2018, "month": 5, "date": 10}, "type": "temporal", "axis": null},
            "x2": {"datum": {"year": 2021, "month": 3, "date": 26}},
            "y": {"datum": 1.25702, "type": "quantitative"}
          }
        },
        {
          "data": {"values": [{}]},
          "mark": {"type": "rule", "color": "#000000", "strokeWidth": 1.5},
          "encoding": {
            "x": {"datum": {"year": 2018, "month": 5, "date": 10}, "type": "temporal", "axis": null},
            "x2": {"datum": {"year": 2021, "month": 3, "date": 26}},
            "y": {"datum": 1.244964, "type": "quantitative"}
          }
        },
        {
          "data": {"values": [{}]},
          "mark": {"type": "rect", "fill": "#ffffff", "fillOpacity": 0, "stroke": "#000000", "strokeWidth": 5},
          "encoding": {
            "x": {"datum": {"year": 2019, "month": 6, "date": 7}, "type": "temporal", "axis": null},
            "x2": {"datum": {"year": 2021, "month": 2, "date": 23}},
            "y": {"datum": 1.1605, "type": "quantitative"},
            "y2": {"datum": 1.3337}
          }
        },
        {
          "data": {"values": [{}]},
          "mark": {"type": "rect", "fill": "#ffffff", "fillOpacity": 0, "stroke": "#ff8533", "strokeWidth": 3},
          "encoding": {
            "x": {"datum": {"year": 2019, "month": 11, "date": 15}, "type": "temporal", "axis": null},
            "x2": {"datum": {"year": 2021, "month": 2, "date": 4}},
            "y": {"datum": 1.2445, "type": "quantitative"},
            "y2": {"datum": 1.2730}
          }
        },
        {
          "data": {"values": [{}]},
          "mark": {"type": "rect", "fill": "#ffffff", "fillOpacity": 0, "stroke": "#000000", "strokeWidth": 2},
          "encoding": {
            "x": {"datum": {"year": 2019, "month": 8, "date": 4}, "type": "temporal", "axis": null},
            "x2": {"datum": {"year": 2019, "month": 8, "date": 18}},
            "y": {"datum": 1.2039, "type": "quantitative"},
            "y2": {"datum": 1.2095}
          }
        },
        {
          "data": {"values": [{}]},
          "mark": {"type": "text", "text": "1,244964", "fontSize": 10.5, "align": "left", "baseline": "middle", "dx": 1, "dy": -9, "color": "#000000"},
          "encoding": {
            "x": {"datum": {"year": 2018, "month": 5, "date": 10}, "type": "temporal", "axis": null},
            "y": {"datum": 1.244964, "type": "quantitative"}
          }
        },
        {
          "data": {"values": [{}]},
          "mark": {"type": "text", "text": "Clo J", "fontSize": 10.5, "align": "right", "baseline": "middle", "dy": -7, "color": "#36c800"},
          "encoding": {
            "x": {"datum": {"year": 2021, "month": 3, "date": 16}, "type": "temporal", "axis": null},
            "y": {"datum": 1.25702, "type": "quantitative"}
          }
        },
        {
          "data": {"values": [{}]},
          "mark": {"type": "text", "text": "© ProRealTime Trading", "fontSize": 10.5, "align": "left", "baseline": "middle", "dx": 1, "color": "#222222"},
          "encoding": {
            "x": {"datum": {"year": 2018, "month": 5, "date": 10}, "type": "temporal", "axis": null},
            "y": {"datum": 1.1307, "type": "quantitative"}
          }
        },
        {
          "data": {"values": [{}]},
          "mark": {"type": "text", "text": "Spot GBP/USD Hebdo 1,25702 (-0,10 %) 17 juin 2020 13:41:45", "fontSize": 10.6, "fontWeight": "bold", "align": "left", "baseline": "middle", "color": "#111111"},
          "encoding": {
            "x": {"datum": {"year": 2018, "month": 5, "date": 29}, "type": "temporal", "axis": null},
            "y": {"datum": 1.4209, "type": "quantitative"}
          }
        },
        {
          "data": {"values": [{}]},
          "mark": {"type": "text", "text": "Trading.ProRealTime.com", "fontSize": 10.6, "fontWeight": "bold", "align": "right", "baseline": "middle", "color": "#111111"},
          "encoding": {
            "x": {"datum": {"year": 2021, "month": 5, "date": 2}, "type": "temporal", "axis": null},
            "y": {"datum": 1.4209, "type": "quantitative"}
          }
        },
        {
          "data": {"values": [{}]},
          "mark": {"type": "rect", "fill": "#eeeef2", "stroke": "#a9adb8", "strokeWidth": 1},
          "encoding": {
            "x": {"datum": {"year": 2018, "month": 5, "date": 10}, "type": "temporal", "axis": null},
            "x2": {"datum": {"year": 2018, "month": 6, "date": 10}},
            "y": {"datum": 1.41065, "type": "quantitative"},
            "y2": {"datum": 1.41627}
          }
        },
        {
          "data": {"values": [{}]},
          "mark": {"type": "rect", "fill": "#eeeef2", "stroke": "#a9adb8", "strokeWidth": 1},
          "encoding": {
            "x": {"datum": {"year": 2018, "month": 6, "date": 12}, "type": "temporal", "axis": null},
            "x2": {"datum": {"year": 2018, "month": 9, "date": 17}},
            "y": {"datum": 1.41065, "type": "quantitative"},
            "y2": {"datum": 1.41627}
          }
        },
        {
          "data": {"values": [{}]},
          "mark": {"type": "rect", "fill": "#eeeef2", "stroke": "#a9adb8", "strokeWidth": 1},
          "encoding": {
            "x": {"datum": {"year": 2018, "month": 9, "date": 19}, "type": "temporal", "axis": null},
            "x2": {"datum": {"year": 2018, "month": 11, "date": 21}},
            "y": {"datum": 1.41065, "type": "quantitative"},
            "y2": {"datum": 1.41627}
          }
        },
        {
          "data": {"values": [{}]},
          "mark": {"type": "rect", "fill": "#f0284c"},
          "encoding": {
            "x": {"datum": {"year": 2018, "month": 5, "date": 12}, "type": "temporal", "axis": null},
            "x2": {"datum": {"year": 2018, "month": 5, "date": 17}},
            "y": {"datum": 1.41137, "type": "quantitative"},
            "y2": {"datum": 1.41539}
          }
        },
        {
          "data": {"values": [{}]},
          "mark": {"type": "rect", "fill": "#1f1fee"},
          "encoding": {
            "x": {"datum": {"year": 2018, "month": 5, "date": 17}, "type": "temporal", "axis": null},
            "x2": {"datum": {"year": 2018, "month": 5, "date": 22}},
            "y": {"datum": 1.41137, "type": "quantitative"},
            "y2": {"datum": 1.41539}
          }
        },
        {
          "data": {"values": [{}]},
          "mark": {"type": "rect", "fill": "#111111"},
          "encoding": {
            "x": {"datum": {"year": 2018, "month": 6, "date": 15}, "type": "temporal", "axis": null},
            "x2": {"datum": {"year": 2018, "month": 6, "date": 18}},
            "y": {"datum": 1.41137, "type": "quantitative"},
            "y2": {"datum": 1.41539}
          }
        },
        {
          "data": {"values": [{}]},
          "mark": {"type": "rect", "fill": "#1c1cc4"},
          "encoding": {
            "x": {"datum": {"year": 2018, "month": 6, "date": 18}, "type": "temporal", "axis": null},
            "x2": {"datum": {"year": 2018, "month": 6, "date": 21}},
            "y": {"datum": 1.41137, "type": "quantitative"},
            "y2": {"datum": 1.41539}
          }
        },
        {
          "data": {"values": [{}]},
          "mark": {"type": "rect", "fill": "#ff1f1f"},
          "encoding": {
            "x": {"datum": {"year": 2018, "month": 6, "date": 21}, "type": "temporal", "axis": null},
            "x2": {"datum": {"year": 2018, "month": 6, "date": 25}},
            "y": {"datum": 1.41137, "type": "quantitative"},
            "y2": {"datum": 1.41539}
          }
        },
        {
          "data": {"values": [{}]},
          "mark": {"type": "rect", "fill": "#22cc00"},
          "encoding": {
            "x": {"datum": {"year": 2018, "month": 9, "date": 22}, "type": "temporal", "axis": null},
            "x2": {"datum": {"year": 2018, "month": 10, "date": 1}},
            "y": {"datum": 1.41137, "type": "quantitative"},
            "y2": {"datum": 1.41539}
          }
        },
        {
          "data": {"values": [{}]},
          "mark": {"type": "text", "text": "Prix", "fontSize": 10.5, "align": "left", "baseline": "middle", "color": "#222222"},
          "encoding": {
            "x": {"datum": {"year": 2018, "month": 5, "date": 23}, "type": "temporal", "axis": null},
            "y": {"datum": 1.41346, "type": "quantitative"}
          }
        },
        {
          "data": {"values": [{}]},
          "mark": {"type": "text", "text": "Ichimoku (9 26 52)", "fontSize": 10.5, "align": "left", "baseline": "middle", "color": "#222222"},
          "encoding": {
            "x": {"datum": {"year": 2018, "month": 6, "date": 27}, "type": "temporal", "axis": null},
            "y": {"datum": 1.41346, "type": "quantitative"}
          }
        },
        {
          "data": {"values": [{}]},
          "mark": {"type": "text", "text": "Clôture (J)", "fontSize": 10.5, "align": "left", "baseline": "middle", "color": "#222222"},
          "encoding": {
            "x": {"datum": {"year": 2018, "month": 10, "date": 3}, "type": "temporal", "axis": null},
            "y": {"datum": 1.41346, "type": "quantitative"}
          }
        },
        {
          "data": {"values": [{"v": 1.25702, "t": "1,25702"}]},
          "layer": [
            {"mark": {"type": "bar", "size": 12, "yOffset": -3, "fill": "#ffffff", "stroke": "#b4b8c6", "strokeWidth": 1},
             "encoding": {"x": {"datum": {"year": 2021, "month": 3, "date": 30}, "type": "temporal", "axis": null},
                          "x2": {"datum": {"year": 2021, "month": 5, "date": 7}},
                          "y": {"field": "v", "type": "quantitative"}}},
            {"mark": {"type": "text", "yOffset": -3, "fontSize": 8, "color": "#444444"},
             "encoding": {"x": {"datum": {"year": 2021, "month": 4, "date": 18}, "type": "temporal", "axis": null},
                          "y": {"field": "v", "type": "quantitative"}, "text": {"field": "t"}}}
          ]
        },
        {
          "data": {"values": [{"v": 1.25702, "t": "1,25702"}]},
          "layer": [
            {"mark": {"type": "bar", "size": 12, "yOffset": 8, "fill": "#ffffff", "stroke": "#b4b8c6", "strokeWidth": 1},
             "encoding": {"x": {"datum": {"year": 2021, "month": 3, "date": 30}, "type": "temporal", "axis": null},
                          "x2": {"datum": {"year": 2021, "month": 5, "date": 7}},
                          "y": {"field": "v", "type": "quantitative"}}},
            {"mark": {"type": "text", "yOffset": 8, "fontSize": 10, "color": "#2db52d"},
             "encoding": {"x": {"datum": {"year": 2021, "month": 4, "date": 18}, "type": "temporal", "axis": null},
                          "y": {"field": "v", "type": "quantitative"}, "text": {"field": "t"}}}
          ]
        },
        {
          "data": {"values": [{"v": 1.24632, "t": "1,24632"}]},
          "layer": [
            {"mark": {"type": "bar", "size": 12, "yOffset": -6, "fill": "#ffffff", "stroke": "#b4b8c6", "strokeWidth": 1},
             "encoding": {"x": {"datum": {"year": 2021, "month": 3, "date": 30}, "type": "temporal", "axis": null},
                          "x2": {"datum": {"year": 2021, "month": 5, "date": 7}},
                          "y": {"field": "v", "type": "quantitative"}}},
            {"mark": {"type": "text", "yOffset": -6, "fontSize": 10, "color": "#8c8cff"},
             "encoding": {"x": {"datum": {"year": 2021, "month": 4, "date": 18}, "type": "temporal", "axis": null},
                          "y": {"field": "v", "type": "quantitative"}, "text": {"field": "t"}}}
          ]
        },
        {
          "data": {"values": [{"v": 1.24447, "t": "1,24447"}]},
          "layer": [
            {"mark": {"type": "bar", "size": 12, "yOffset": 1, "fill": "#ffffff", "stroke": "#b4b8c6", "strokeWidth": 1},
             "encoding": {"x": {"datum": {"year": 2021, "month": 3, "date": 30}, "type": "temporal", "axis": null},
                          "x2": {"datum": {"year": 2021, "month": 5, "date": 7}},
                          "y": {"field": "v", "type": "quantitative"}}},
            {"mark": {"type": "text", "yOffset": 1, "fontSize": 10, "color": "#ff1f1f"},
             "encoding": {"x": {"datum": {"year": 2021, "month": 4, "date": 18}, "type": "temporal", "axis": null},
                          "y": {"field": "v", "type": "quantitative"}, "text": {"field": "t"}}}
          ]
        },
        {
          "data": {"values": [{"v": 1.23962, "t": "1,23962"}]},
          "layer": [
            {"mark": {"type": "bar", "size": 12, "yOffset": 3, "fill": "#ffffff", "stroke": "#b4b8c6", "strokeWidth": 1},
             "encoding": {"x": {"datum": {"year": 2021, "month": 3, "date": 30}, "type": "temporal", "axis": null},
                          "x2": {"datum": {"year": 2021, "month": 5, "date": 7}},
                          "y": {"field": "v", "type": "quantitative"}}},
            {"mark": {"type": "text", "yOffset": 3, "fontSize": 10, "color": "#ff8566"},
             "encoding": {"x": {"datum": {"year": 2021, "month": 4, "date": 18}, "type": "temporal", "axis": null},
                          "y": {"field": "v", "type": "quantitative"}, "text": {"field": "t"}}}
          ]
        },
        {
          "data": {"values": [{"v": 1.23477, "t": "1,23477"}]},
          "layer": [
            {"mark": {"type": "bar", "size": 12, "yOffset": 4, "fill": "#ffffff", "stroke": "#b4b8c6", "strokeWidth": 1},
             "encoding": {"x": {"datum": {"year": 2021, "month": 3, "date": 30}, "type": "temporal", "axis": null},
                          "x2": {"datum": {"year": 2021, "month": 5, "date": 7}},
                          "y": {"field": "v", "type": "quantitative"}}},
            {"mark": {"type": "text", "yOffset": 4, "fontSize": 10, "color": "#2626d9"},
             "encoding": {"x": {"datum": {"year": 2021, "month": 4, "date": 18}, "type": "temporal", "axis": null},
                          "y": {"field": "v", "type": "quantitative"}, "text": {"field": "t"}}}
          ]
        },
        {
          "data": {"values": [{"v": 1.25702, "t": "1,25702"}]},
          "layer": [
            {"mark": {"type": "bar", "size": 12, "yOffset": -15, "fill": "#f5c400", "stroke": "#b4b8c6", "strokeWidth": 1},
             "encoding": {"x": {"datum": {"year": 2021, "month": 3, "date": 30}, "type": "temporal", "axis": null},
                          "x2": {"datum": {"year": 2021, "month": 5, "date": 7}},
                          "y": {"field": "v", "type": "quantitative"}}},
            {"mark": {"type": "text", "yOffset": -15, "fontSize": 10, "color": "#000000"},
             "encoding": {"x": {"datum": {"year": 2021, "month": 4, "date": 18}, "type": "temporal", "axis": null},
                          "y": {"field": "v", "type": "quantitative"}, "text": {"field": "t"}}}
          ]
        }
      ]
    },
    {
      "width": 1132,
      "height": 53,
      "layer": [
        {
          "data": {"values": [{}]},
          "mark": {"type": "rule", "color": "#5555ee", "strokeWidth": 1.6},
          "encoding": {
            "x": {"datum": {"year": 2018, "month": 5, "date": 10}, "type": "temporal",
                  "scale": {"domain": [{"year": 2018, "month": 5, "date": 10}, {"year": 2021, "month": 3, "date": 26}], "padding": 0}, "axis": null},
            "x2": {"datum": {"year": 2021, "month": 3, "date": 26}},
            "y": {"datum": 20, "type": "quantitative",
                  "scale": {"domain": [-9.5, 116.7], "nice": false, "zero": false, "padding": 0},
                  "axis": {"orient": "right", "title": null, "grid": false, "values": [100],
                           "labelFontSize": 8, "labelColor": "#000000", "labelPadding": 3,
                           "tickSize": 4, "tickColor": "#777777", "domainColor": "#98a0b4"}}
          }
        },
        {
          "data": {"name": "std"},
          "mark": {"type": "line", "color": "#eb9a9a", "strokeWidth": 1.5, "strokeDash": [4, 3]},
          "encoding": {
            "x": {"field": "d", "type": "temporal", "axis": null},
            "y": {"field": "v", "type": "quantitative"}
          }
        },
        {
          "data": {"name": "stk"},
          "mark": {"type": "line", "color": "#6b6bff", "strokeWidth": 1.5},
          "encoding": {
            "x": {"field": "d", "type": "temporal", "axis": null},
            "y": {"field": "v", "type": "quantitative"}
          }
        },
        {
          "data": {"values": [{}]},
          "mark": {"type": "rect", "fill": "#eeeef2", "stroke": "#a9adb8", "strokeWidth": 1},
          "encoding": {
            "x": {"datum": {"year": 2018, "month": 5, "date": 10}, "type": "temporal", "axis": null},
            "x2": {"datum": {"year": 2018, "month": 8, "date": 29}},
            "y": {"datum": 77.9, "type": "quantitative"},
            "y2": {"datum": 112.5}
          }
        },
        {
          "data": {"values": [{}]},
          "mark": {"type": "rect", "fill": "#f0284c"},
          "encoding": {
            "x": {"datum": {"year": 2018, "month": 5, "date": 13}, "type": "temporal", "axis": null},
            "x2": {"datum": {"year": 2018, "month": 5, "date": 17}},
            "y": {"datum": 83.4, "type": "quantitative"},
            "y2": {"datum": 107.2}
          }
        },
        {
          "data": {"values": [{}]},
          "mark": {"type": "rect", "fill": "#1f1fee"},
          "encoding": {
            "x": {"datum": {"year": 2018, "month": 5, "date": 17}, "type": "temporal", "axis": null},
            "x2": {"datum": {"year": 2018, "month": 5, "date": 21}},
            "y": {"datum": 83.4, "type": "quantitative"},
            "y2": {"datum": 107.2}
          }
        },
        {
          "data": {"values": [{}]},
          "mark": {"type": "text", "text": "Stochastique (14 3 5)", "fontSize": 10.5, "align": "left", "baseline": "middle", "color": "#222222"},
          "encoding": {
            "x": {"datum": {"year": 2018, "month": 5, "date": 23}, "type": "temporal", "axis": null},
            "y": {"datum": 95.7, "type": "quantitative"}
          }
        },
        {
          "data": {"values": [{"v": 72.003, "t": "72,003"}]},
          "layer": [
            {"mark": {"type": "bar", "size": 13, "yOffset": -2, "fill": "#eef1fc", "stroke": "#aab0c4", "strokeWidth": 1},
             "encoding": {"x": {"datum": {"year": 2021, "month": 3, "date": 30}, "type": "temporal", "axis": null},
                          "x2": {"datum": {"year": 2021, "month": 5, "date": 7}},
                          "y": {"field": "v", "type": "quantitative"}}},
            {"mark": {"type": "text", "yOffset": -2, "fontSize": 10, "color": "#5b63ff"},
             "encoding": {"x": {"datum": {"year": 2021, "month": 4, "date": 18}, "type": "temporal", "axis": null},
                          "y": {"field": "v", "type": "quantitative"}, "text": {"field": "t"}}}
          ]
        },
        {
          "data": {"values": [{"v": 55.956, "t": "55,956"}]},
          "layer": [
            {"mark": {"type": "bar", "size": 13, "yOffset": 6, "fill": "#eef1fc", "stroke": "#aab0c4", "strokeWidth": 1},
             "encoding": {"x": {"datum": {"year": 2021, "month": 3, "date": 30}, "type": "temporal", "axis": null},
                          "x2": {"datum": {"year": 2021, "month": 5, "date": 7}},
                          "y": {"field": "v", "type": "quantitative"}}},
            {"mark": {"type": "text", "yOffset": 6, "fontSize": 10, "color": "#e58585"},
             "encoding": {"x": {"datum": {"year": 2021, "month": 4, "date": 18}, "type": "temporal", "axis": null},
                          "y": {"field": "v", "type": "quantitative"}, "text": {"field": "t"}}}
          ]
        }
      ]
    },
    {
      "width": 1132,
      "height": 74,
      "layer": [
        {
          "data": {"values": [{}]},
          "mark": {"type": "rect", "fill": "#e3e9f9"},
          "encoding": {
            "x": {"datum": {"year": 2018, "month": 5, "date": 10}, "type": "temporal"},
            "x2": {"datum": {"year": 2021, "month": 5, "date": 7}},
            "y": {"datum": -667, "type": "quantitative"},
            "y2": {"datum": 0}
          }
        },
        {
          "data": {"name": "candles"},
          "mark": {"type": "bar", "size": 6.5, "strokeWidth": 1},
          "encoding": {
            "x": {"field": "d", "type": "temporal",
                  "scale": {"domain": [{"year": 2018, "month": 5, "date": 10}, {"year": 2021, "month": 3, "date": 26}], "padding": 0},
                  "axis": {"orient": "bottom", "title": null, "grid": false, "domain": false, "zindex": 1,
                           "values": [{"year": 2018, "month": 7, "date": 2}, {"year": 2018, "month": 9, "date": 3}, {"year": 2018, "month": 11, "date": 5},
                                      {"year": 2019, "month": 1, "date": 7}, {"year": 2019, "month": 3, "date": 4}, {"year": 2019, "month": 5, "date": 6},
                                      {"year": 2019, "month": 7, "date": 1}, {"year": 2019, "month": 9, "date": 2}, {"year": 2019, "month": 11, "date": 4},
                                      {"year": 2020, "month": 1, "date": 6}, {"year": 2020, "month": 3, "date": 2}, {"year": 2020, "month": 5, "date": 4},
                                      {"year": 2020, "month": 7, "date": 6}, {"year": 2020, "month": 9, "date": 7}, {"year": 2020, "month": 11, "date": 2},
                                      {"year": 2021, "month": 1, "date": 4}, {"year": 2021, "month": 3, "date": 1}],
                           "labelExpr": "month(datum.value) == 0 ? '' + year(datum.value) : ['janv.', 'févr.', 'mars', 'avr.', 'mai', 'juin', 'juil.', 'août', 'sept.', 'oct.', 'nov.', 'déc.'][month(datum.value)]",
                           "labelFontWeight": {"condition": {"test": "month(datum.value) == 0", "value": "bold"}, "value": "normal"},
                           "labelFontSize": {"condition": {"test": "month(datum.value) == 0", "value": 12}, "value": 10.5},
                           "labelColor": "#000000", "labelPadding": 2, "labelFlush": false,
                           "tickSize": 4, "tickColor": "#8a8f9a"}},
            "y": {"field": "v", "type": "quantitative",
                  "scale": {"domain": [0, 2600], "nice": false, "zero": true, "padding": 0},
                  "axis": {"orient": "right", "title": null, "grid": false, "values": [1000, 2000],
                           "labelExpr": "replace(format(datum.value, ',d'), ',', ' ') + 'k'",
                           "labelFontSize": 10, "labelColor": "#000000", "labelPadding": 3,
                           "tickSize": 4, "tickColor": "#777777", "domainColor": "#98a0b4"}},
            "color": {"condition": {"test": "datum.c >= datum.o", "value": "#3164e6"}, "value": "#e8706e"},
            "stroke": {"condition": {"test": "datum.c >= datum.o", "value": "#1534b0"}, "value": "#b33030"}
          }
        },
        {
          "data": {"values": [{}]},
          "mark": {"type": "rect", "fill": "#eeeef2", "stroke": "#a9adb8", "strokeWidth": 1},
          "encoding": {
            "x": {"datum": {"year": 2018, "month": 5, "date": 10}, "type": "temporal"},
            "x2": {"datum": {"year": 2018, "month": 6, "date": 29}},
            "y": {"datum": 1992, "type": "quantitative"},
            "y2": {"datum": 2500}
          }
        },
        {
          "data": {"values": [{}]},
          "mark": {"type": "rect", "fill": "#e8706e"},
          "encoding": {
            "x": {"datum": {"year": 2018, "month": 5, "date": 13}, "type": "temporal"},
            "x2": {"datum": {"year": 2018, "month": 5, "date": 17}},
            "y": {"datum": 2073, "type": "quantitative"},
            "y2": {"datum": 2420}
          }
        },
        {
          "data": {"values": [{}]},
          "mark": {"type": "rect", "fill": "#3164e6"},
          "encoding": {
            "x": {"datum": {"year": 2018, "month": 5, "date": 17}, "type": "temporal"},
            "x2": {"datum": {"year": 2018, "month": 5, "date": 21}},
            "y": {"datum": 2073, "type": "quantitative"},
            "y2": {"datum": 2420}
          }
        },
        {
          "data": {"values": [{}]},
          "mark": {"type": "text", "text": "Volume", "fontSize": 10.5, "align": "left", "baseline": "middle", "color": "#222222"},
          "encoding": {
            "x": {"datum": {"year": 2018, "month": 5, "date": 23}, "type": "temporal"},
            "y": {"datum": 2246, "type": "quantitative"}
          }
        },
        {
          "data": {"values": [{"v": 1318, "t": "1 318k"}]},
          "layer": [
            {"mark": {"type": "bar", "size": 13, "fill": "#eef1fc", "stroke": "#aab0c4", "strokeWidth": 1},
             "encoding": {"x": {"datum": {"year": 2021, "month": 3, "date": 30}, "type": "temporal"},
                          "x2": {"datum": {"year": 2021, "month": 5, "date": 7}},
                          "y": {"field": "v", "type": "quantitative"}}},
            {"mark": {"type": "text", "fontSize": 10, "color": "#4d7bff"},
             "encoding": {"x": {"datum": {"year": 2021, "month": 4, "date": 18}, "type": "temporal"},
                          "y": {"field": "v", "type": "quantitative"}, "text": {"field": "t"}}}
          ]
        }
      ]
    }
  ]
}
